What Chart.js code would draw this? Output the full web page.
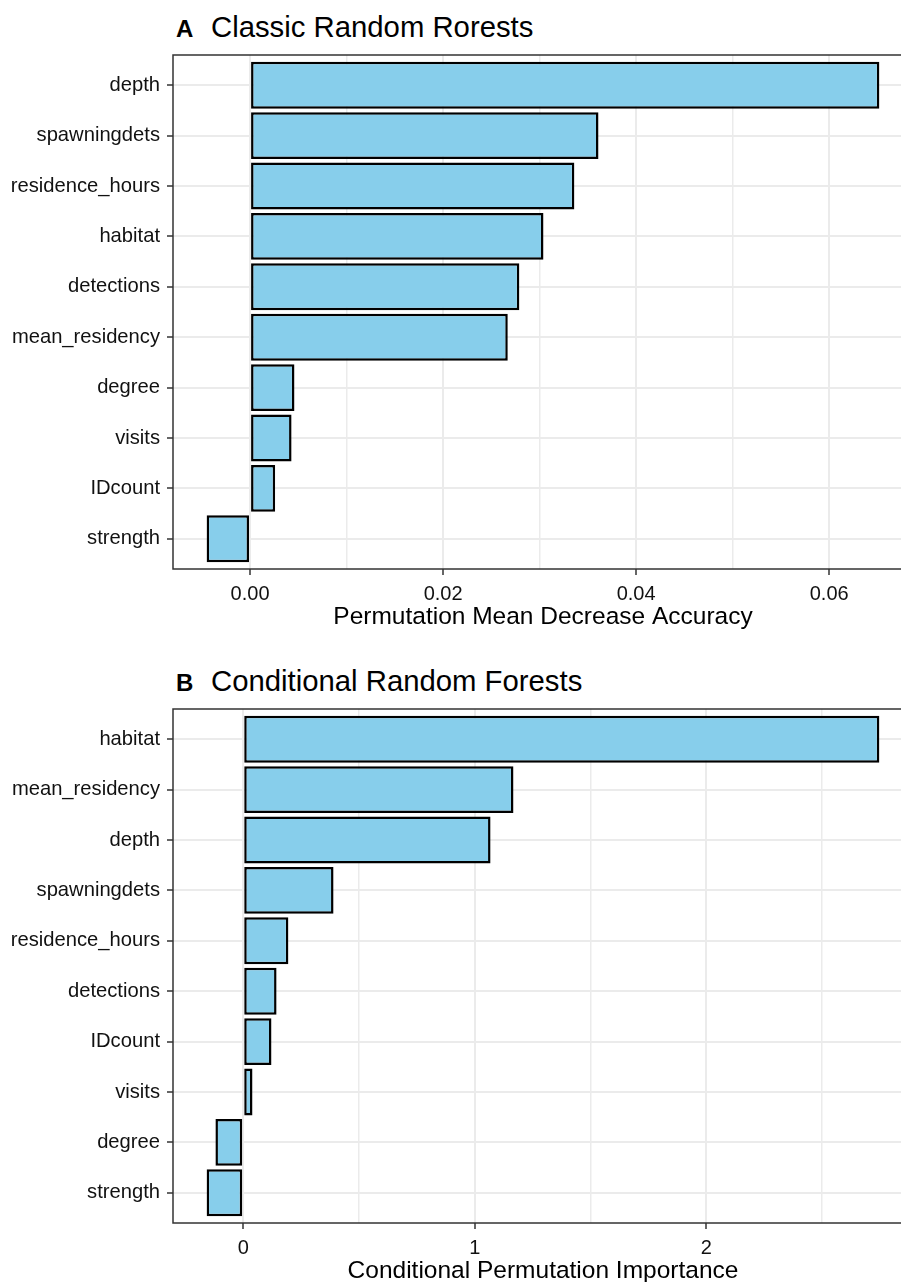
<!DOCTYPE html>
<html>
<head>
<meta charset="utf-8">
<script src="https://cdn.jsdelivr.net/npm/chart.js@4.4.1/dist/chart.umd.min.js"></script>
<style>
  html, body { margin: 0; padding: 0; background: #fff; width: 901px; height: 1282px; overflow: hidden; }
  .panel { position: absolute; left: 0; width: 914px; height: 640px; }
  .tag, .ttl { position: absolute; font-family: "Liberation Sans", Arial, Helvetica, sans-serif; color: #000; white-space: nowrap; }
  .tag { font-weight: bold; font-size: 24px; line-height: 24px; }
  .ttl { font-size: 29.3px; line-height: 29.3px; }
</style>
</head>
<body>
<div class="tag" style="left:176px; top:16.7px;">A</div>
<div class="ttl" style="left:211px; top:12.3px;">Classic Random Rorests</div>
<div class="panel" style="top:0px;"><canvas id="chartA" width="914" height="640"></canvas></div>

<div class="tag" style="left:176px; top:670.7px;">B</div>
<div class="ttl" style="left:211px; top:666.3px;">Conditional Random Forests</div>
<div class="panel" style="top:654px;"><canvas id="chartB" width="914" height="640"></canvas></div>

<script>
// Panel A: classic random forest permutation importance (top to bottom)
const categoriesA = ['depth', 'spawningdets', 'residence_hours', 'habitat', 'detections',
                     'mean_residency', 'degree', 'visits', 'IDcount', 'strength'];
const valuesA = [0.0652, 0.0361, 0.0336, 0.0304, 0.0279, 0.0267, 0.0046, 0.0043, 0.0026, -0.0045];
const majorTicksA = [0, 0.02, 0.04, 0.06];
const minorTicksA = [0.01, 0.03, 0.05];
const tickLabelsA = ['0.00', '0.02', '0.04', '0.06'];
const axisTitleA = 'Permutation Mean Decrease Accuracy';

// Panel B: conditional random forest permutation importance (top to bottom)
const categoriesB = ['habitat', 'mean_residency', 'depth', 'spawningdets', 'residence_hours',
                     'detections', 'IDcount', 'visits', 'degree', 'strength'];
const valuesB = [2.747, 1.167, 1.068, 0.390, 0.195, 0.144, 0.122, 0.040, -0.120, -0.158];
const majorTicksB = [0, 1, 2];
const minorTicksB = [0.5, 1.5, 2.5];
const tickLabelsB = ['0', '1', '2'];
const axisTitleB = 'Conditional Permutation Importance';

const FONT = '"Liberation Sans", Arial, Helvetica, sans-serif';

// Frame around the plotting region, drawn over the bars
const panelBorder = {
  id: 'panelBorder',
  afterDatasetsDraw(chart) {
    const a = chart.chartArea;
    const ctx = chart.ctx;
    ctx.save();
    ctx.strokeStyle = '#333333';
    ctx.lineWidth = 1.5;
    ctx.strokeRect(a.left, a.top, a.right - a.left, a.bottom - a.top);
    ctx.restore();
  }
};

function makeChart(id, cats, vals, major, minor, labels, title) {
  const lo = Math.min(0, ...vals);
  const hi = Math.max(0, ...vals);
  const pad = (hi - lo) * 0.05;
  const majorIndex = v => major.findIndex(m => Math.abs(m - v) < 1e-9);
  const allTicks = major.concat(minor).sort((a, b) => a - b);

  return new Chart(document.getElementById(id), {
    type: 'bar',
    data: {
      datasets: [{
        data: vals.map((v, i) => ({ x: v, y: i + 1 })),
        backgroundColor: '#87CEEB',
        borderColor: '#000000',
        borderWidth: 2.5,
        borderSkipped: false,
        barPercentage: 0.93,
        categoryPercentage: 1
      }]
    },
    options: {
      indexAxis: 'y',
      responsive: false,
      animation: false,
      layout: { padding: { top: 55, left: 0, right: 1, bottom: 0 } },
      plugins: { legend: { display: false }, tooltip: { enabled: false } },
      scales: {
        x: {
          type: 'linear',
          min: lo - pad,
          max: hi + pad,
          afterBuildTicks: s => { s.ticks = allTicks.map(v => ({ value: v })); },
          afterFit: s => { s.height = 71; },
          border: { display: false },
          grid: {
            color: '#EBEBEB',
            lineWidth: c => (c.tick && majorIndex(c.tick.value) >= 0 ? 2 : 1.5),
            tickLength: 6,
            tickWidth: 1.5,
            tickColor: c => (c.tick && majorIndex(c.tick.value) >= 0 ? '#333333' : 'rgba(0,0,0,0)')
          },
          ticks: {
            autoSkip: false,
            maxRotation: 0,
            padding: 7,
            color: '#111111',
            font: { family: FONT, size: 20 },
            callback: v => { const k = majorIndex(v); return k >= 0 ? labels[k] : ''; }
          },
          title: {
            display: true,
            text: title,
            color: '#000000',
            font: { family: FONT, size: 24.5 },
            padding: { top: 0, bottom: 8 }
          }
        },
        y: {
          type: 'linear',
          reverse: true,
          offset: false,
          min: 0.4,
          max: cats.length + 0.6,
          afterBuildTicks: s => { s.ticks = cats.map((c, i) => ({ value: i + 1 })); },
          afterFit: s => { s.width = 173; },
          border: { display: false },
          grid: {
            offset: false,
            color: '#EBEBEB',
            lineWidth: 2,
            tickLength: 6,
            tickWidth: 1.5,
            tickColor: '#333333'
          },
          ticks: {
            autoSkip: false,
            padding: 7,
            color: '#111111',
            font: { family: FONT, size: 20.2 },
            callback: v => cats[Math.round(v) - 1]
          }
        }
      }
    },
    plugins: [panelBorder]
  });
}

makeChart('chartA', categoriesA, valuesA, majorTicksA, minorTicksA, tickLabelsA, axisTitleA);
makeChart('chartB', categoriesB, valuesB, majorTicksB, minorTicksB, tickLabelsB, axisTitleB);
</script>
</body>
</html>
